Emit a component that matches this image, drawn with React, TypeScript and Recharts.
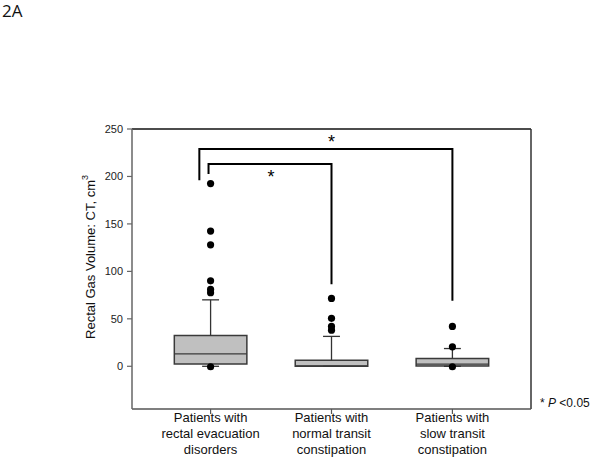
import React from "react";
import {
  ScatterChart,
  Scatter,
  XAxis,
  YAxis,
  ReferenceArea,
  ReferenceLine,
  ReferenceDot,
  Label,
} from "recharts";

// groups (x positions 1..3)
const categories = [
  ["Patients with", "rectal evacuation", "disorders"],
  ["Patients with", "normal transit", "constipation"],
  ["Patients with", "slow transit", "constipation"],
];
const positions = [1, 2, 3];

// box statistics (cm3)
const q1 = [2.5, 0, 0.3];
const medians = [13, 0.5, 2.3];
const q3 = [32.5, 6.3, 8.2];
const whiskerLow = [0, 0, 0];
const whiskerHigh = [70, 31.5, 18.7];

// outliers per group
const outliers = [
  [192.5, 142.5, 128, 90, 81, 77.5, -0.5],
  [71.5, 50.5, 42, 38],
  [42, 20.5, -0.5],
];

// significance brackets
const bracketOuter = [
  { x: 0.907, y: 196 },
  { x: 0.907, y: 229 },
  { x: 3, y: 229 },
  { x: 3, y: 69 },
];
const bracketInner = [
  { x: 0.983, y: 202.5 },
  { x: 0.983, y: 213 },
  { x: 2, y: 213 },
  { x: 2, y: 86.5 },
];
const stars = [
  { x: 2, y: 240.5 },
  { x: 1.5, y: 204 },
];

const yTicks = [0, 50, 100, 150, 200, 250];
const font = "'Liberation Sans', Arial, sans-serif";

const BOX_HALF = 0.3;
const CAP_HALF = 0.07;

const outlierPoints = outliers.flatMap((vals, i) =>
  vals.map((v) => ({ x: positions[i], y: v }))
);

const CategoryTick = (props: any) => {
  const { x, y, payload } = props;
  const lines = categories[payload.value - 1] || [];
  return (
    <text x={x} y={y} textAnchor="middle" fontSize={13} fill="#111" fontFamily={font}>
      {lines.map((l, i) => (
        <tspan key={i} x={x} dy={i === 0 ? 6 : 16}>
          {l}
        </tspan>
      ))}
    </text>
  );
};

const YLabel = (props: any) => {
  const vb = props.viewBox || { x: 0, y: 129, width: 132, height: 280 };
  const cx = vb.x + 90;
  const cy = vb.y + vb.height / 2 - 12;
  return (
    <text
      x={cx}
      y={cy}
      transform={`rotate(-90, ${cx}, ${cy})`}
      textAnchor="middle"
      dominantBaseline="central"
      fontSize={13}
      fill="#111"
      fontFamily={font}
    >
      Rectal Gas Volume: CT, cm
      <tspan fontSize={9} dy={-5}>3</tspan>
    </text>
  );
};

const Star = (props: any) => (
  <text x={props.cx} y={props.cy + 10} textAnchor="middle" fontSize={18} fill="#000" fontFamily={font}>
    *
  </text>
);

export default function App() {
  return (
    <div style={{ position: "absolute", left: 0, top: 0, width: 600, height: 467, background: "#fff" }}>
      <div
        style={{
          position: "absolute",
          left: 2,
          top: -1,
          fontFamily: "'Open Sans', sans-serif",
          fontSize: 17,
          color: "#111",
        }}
      >
        2A
      </div>
      <div
        style={{
          position: "absolute",
          left: 540,
          top: 396,
          fontFamily: font,
          fontSize: 12,
          color: "#111",
          whiteSpace: "nowrap",
        }}
      >
        * <i>P</i> &lt;0.05
      </div>
      <ScatterChart width={600} height={467} margin={{ top: 129, right: 69, bottom: 8, left: 0 }}>
        <XAxis
          type="number"
          dataKey="x"
          domain={[0.35, 3.65]}
          ticks={positions}
          allowDataOverflow
          height={50}
          tickSize={5}
          tick={<CategoryTick />}
          axisLine={{ stroke: "#555", strokeWidth: 1.5 }}
          tickLine={{ stroke: "#555", strokeWidth: 1.2 }}
        />
        <YAxis
          type="number"
          dataKey="y"
          domain={[-45, 250]}
          ticks={yTicks}
          allowDataOverflow
          width={132}
          tickSize={5}
          tickMargin={4}
          tick={{ fontSize: 11, fill: "#222", fontFamily: font }}
          axisLine={{ stroke: "#666", strokeWidth: 1.5 }}
          tickLine={{ stroke: "#666", strokeWidth: 1.2 }}
        >
          <Label content={<YLabel />} />
        </YAxis>

        {/* frame: top and right */}
        <ReferenceLine y={250} stroke="#111" strokeWidth={1.5} ifOverflow="visible" />
        <ReferenceLine x={3.65} stroke="#333" strokeWidth={1.5} ifOverflow="visible" />

        {positions.map((p, i) => (
          <ReferenceLine
            key={`wh-${i}`}
            segment={[
              { x: p, y: q3[i] },
              { x: p, y: whiskerHigh[i] },
            ]}
            stroke="#333"
            strokeWidth={1.3}
          />
        ))}
        {positions.map((p, i) => (
          <ReferenceLine
            key={`wl-${i}`}
            segment={[
              { x: p, y: q1[i] },
              { x: p, y: whiskerLow[i] },
            ]}
            stroke="#333"
            strokeWidth={1.3}
          />
        ))}
        {positions.map((p, i) => (
          <ReferenceLine
            key={`ch-${i}`}
            segment={[
              { x: p - CAP_HALF, y: whiskerHigh[i] },
              { x: p + CAP_HALF, y: whiskerHigh[i] },
            ]}
            stroke="#333"
            strokeWidth={1.3}
          />
        ))}
        {positions.map((p, i) => (
          <ReferenceLine
            key={`cl-${i}`}
            segment={[
              { x: p - CAP_HALF, y: whiskerLow[i] },
              { x: p + CAP_HALF, y: whiskerLow[i] },
            ]}
            stroke="#333"
            strokeWidth={1.3}
          />
        ))}
        {positions.map((p, i) => (
          <ReferenceArea
            key={`box-${i}`}
            x1={p - BOX_HALF}
            x2={p + BOX_HALF}
            y1={q1[i]}
            y2={q3[i]}
            fill="#c0c0c0"
            fillOpacity={1}
            stroke="#3a3a3a"
            strokeWidth={1.5}
          />
        ))}
        {positions.map((p, i) => (
          <ReferenceLine
            key={`med-${i}`}
            segment={[
              { x: p - BOX_HALF, y: medians[i] },
              { x: p + BOX_HALF, y: medians[i] },
            ]}
            stroke="#3a3a3a"
            strokeWidth={1.3}
          />
        ))}

        <Scatter
          data={outlierPoints}
          fill="#000"
          isAnimationActive={false}
          shape={(p: any) => <circle cx={p.cx} cy={p.cy} r={3.6} fill="#000" />}
        />
        <Scatter
          data={bracketOuter}
          line={{ stroke: "#000", strokeWidth: 2 }}
          lineType="joint"
          shape={() => <g />}
          isAnimationActive={false}
        />
        <Scatter
          data={bracketInner}
          line={{ stroke: "#000", strokeWidth: 2 }}
          lineType="joint"
          shape={() => <g />}
          isAnimationActive={false}
        />
        {stars.map((s, i) => (
          <ReferenceDot key={`star-${i}`} x={s.x} y={s.y} shape={<Star />} />
        ))}
      </ScatterChart>
    </div>
  );
}
